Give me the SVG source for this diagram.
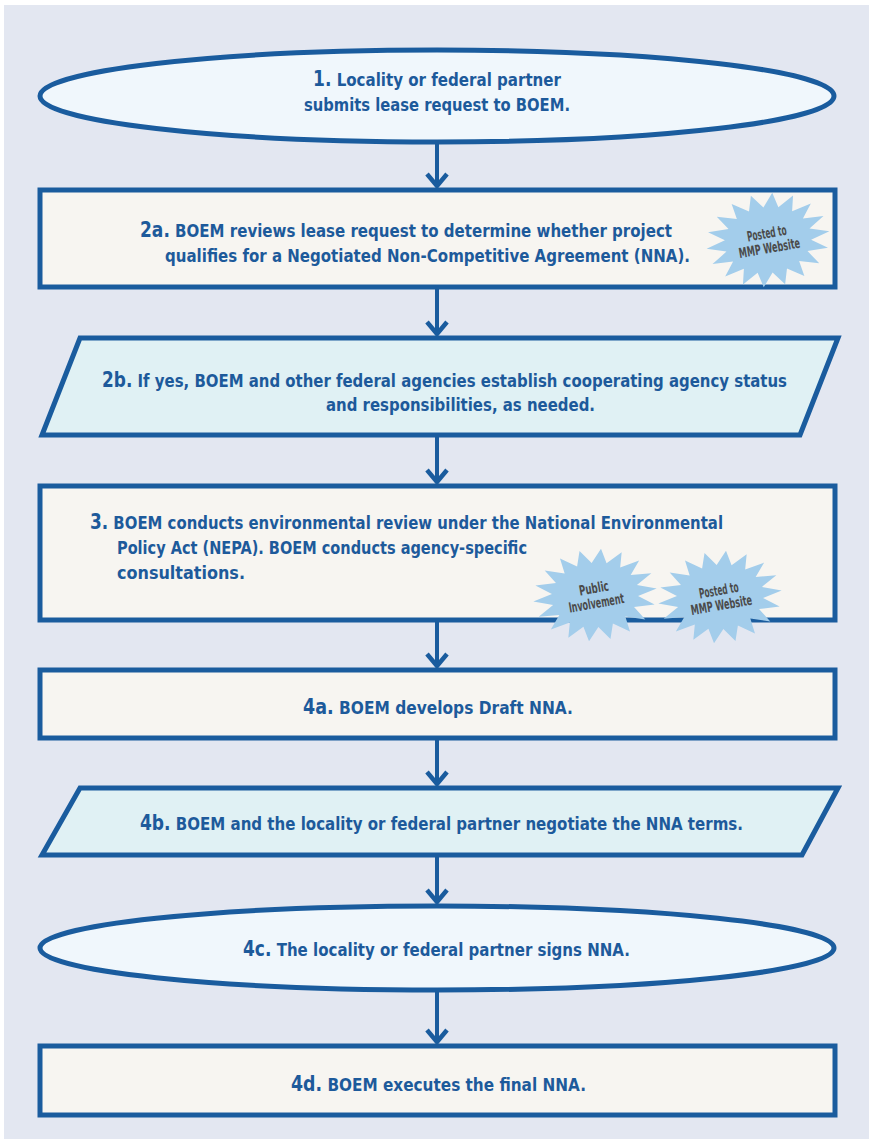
<svg xmlns="http://www.w3.org/2000/svg" width="869" height="1139" viewBox="0 0 869 1139">
<style>
.sh{stroke:#1a5c9e;stroke-width:5}
.ell{fill:#f0f7fc}
.box{fill:#f7f5f1}
.par{fill:#e0f1f4}
.t{font-family:"DejaVu Sans Condensed","Liberation Sans",sans-serif;font-weight:bold;font-size:18.5px;fill:#1d5a9b}
.n{font-size:21px}
.st{font-family:"DejaVu Sans Condensed","Liberation Sans",sans-serif;font-weight:bold;font-size:14px;fill:#4a4a4a;text-anchor:middle}
.star{fill:#a3cdeb}
.con{stroke:#1a5c9e;stroke-width:4;fill:none}
</style>
<defs>
<polygon id="star" points="1,0 .689,.122 .94,.342 .606,.35 .766,.643 .45,.536 .5,.866 .239,.658 .174,.985 0,.7 -.174,.985 -.239,.658 -.5,.866 -.45,.536 -.766,.643 -.606,.35 -.94,.342 -.689,.122 -1,0 -.689,-.122 -.94,-.342 -.606,-.35 -.766,-.643 -.45,-.536 -.5,-.866 -.239,-.658 -.174,-.985 0,-.7 .174,-.985 .239,-.658 .5,-.866 .45,-.536 .766,-.643 .606,-.35 .94,-.342 .689,-.122"/>
<marker id="arr" markerUnits="userSpaceOnUse" markerWidth="30" markerHeight="30" refX="19" refY="15" orient="auto" viewBox="0 0 30 30">
<path d="M7,5 L19,15 L7,25" fill="none" stroke="#1a5c9e" stroke-width="4.5"/>
</marker>
</defs>
<rect x="0" y="0" width="869" height="1139" fill="#ffffff"/>
<rect x="4" y="5" width="865" height="1134" fill="#e3e7f1"/>

<g id="connectors">
<path class="con" d="M437,142 V186" marker-end="url(#arr)"/>
<path class="con" d="M437,287 V334" marker-end="url(#arr)"/>
<path class="con" d="M437,435 V482" marker-end="url(#arr)"/>
<path class="con" d="M437,620 V666" marker-end="url(#arr)"/>
<path class="con" d="M437,738 V784" marker-end="url(#arr)"/>
<path class="con" d="M437,855 V902" marker-end="url(#arr)"/>
<path class="con" d="M437,990 V1042" marker-end="url(#arr)"/>
</g>

<g id="n1">
<ellipse class="sh ell" cx="437" cy="96" rx="397" ry="46"/>
<text class="t" x="313" y="86" textLength="248" lengthAdjust="spacingAndGlyphs"><tspan class="n">1.</tspan> Locality or federal partner</text>
<text class="t" x="304" y="111" textLength="266" lengthAdjust="spacingAndGlyphs">submits lease request to BOEM.</text>
</g>

<g id="n2a">
<rect class="sh box" x="40" y="190" width="795" height="97"/>
<text class="t" x="140" y="237" textLength="532" lengthAdjust="spacingAndGlyphs"><tspan class="n">2a.</tspan> BOEM reviews lease request to determine whether project</text>
<text class="t" x="165" y="262" textLength="525" lengthAdjust="spacingAndGlyphs">qualifies for a Negotiated Non-Competitive Agreement (NNA).</text>
<use href="#star" class="star" transform="translate(768,240) rotate(-8) scale(62,47)"/>
<text class="st" transform="translate(768,240) rotate(-10)"><tspan x="-20" y="-2" text-anchor="start" textLength="40" lengthAdjust="spacingAndGlyphs">Posted to</tspan><tspan x="-31" y="13" text-anchor="start" textLength="62" lengthAdjust="spacingAndGlyphs">MMP Website</tspan></text>
</g>

<g id="n2b">
<polygon class="sh par" points="80,338 838,338 800,435 42,435"/>
<text class="t" x="102" y="387" textLength="685" lengthAdjust="spacingAndGlyphs"><tspan class="n">2b.</tspan> If yes, BOEM and other federal agencies establish cooperating agency status</text>
<text class="t" x="326" y="411" textLength="269" lengthAdjust="spacingAndGlyphs">and responsibilities, as needed.</text>
</g>

<g id="n3">
<rect class="sh box" x="40" y="486" width="795" height="134"/>
<text class="t" x="90" y="529" textLength="633" lengthAdjust="spacingAndGlyphs"><tspan class="n">3.</tspan> BOEM conducts environmental review under the National Environmental</text>
<text class="t" x="117" y="554" textLength="410" lengthAdjust="spacingAndGlyphs">Policy Act (NEPA). BOEM conducts agency-specific</text>
<text class="t" x="117" y="579" textLength="128" lengthAdjust="spacingAndGlyphs">consultations.</text>
<use href="#star" class="star" transform="translate(595,595) rotate(-6) scale(62,46)"/>
<text class="st" transform="translate(595,595) rotate(-10)"><tspan x="-15" y="-2" text-anchor="start" textLength="30" lengthAdjust="spacingAndGlyphs">Public</tspan><tspan x="-28" y="13" text-anchor="start" textLength="56" lengthAdjust="spacingAndGlyphs">Involvement</tspan></text>
<use href="#star" class="star" transform="translate(720,597) rotate(-6) scale(62,46)"/>
<text class="st" transform="translate(720,597) rotate(-10)"><tspan x="-20" y="-2" text-anchor="start" textLength="40" lengthAdjust="spacingAndGlyphs">Posted to</tspan><tspan x="-31" y="13" text-anchor="start" textLength="62" lengthAdjust="spacingAndGlyphs">MMP Website</tspan></text>
</g>

<g id="n4a">
<rect class="sh box" x="40" y="670" width="795" height="68"/>
<text class="t" x="303" y="714" textLength="270" lengthAdjust="spacingAndGlyphs"><tspan class="n">4a.</tspan> BOEM develops Draft NNA.</text>
</g>

<g id="n4b">
<polygon class="sh par" points="80,788 838,788 802,855 42,855"/>
<text class="t" x="140" y="830" textLength="603" lengthAdjust="spacingAndGlyphs"><tspan class="n">4b.</tspan> BOEM and the locality or federal partner negotiate the NNA terms.</text>
</g>

<g id="n4c">
<ellipse class="sh ell" cx="437" cy="948" rx="397" ry="42"/>
<text class="t" x="243" y="956" textLength="387" lengthAdjust="spacingAndGlyphs"><tspan class="n">4c.</tspan> The locality or federal partner signs NNA.</text>
</g>

<g id="n4d">
<rect class="sh box" x="40" y="1046" width="795" height="69"/>
<text class="t" x="291" y="1091" textLength="295" lengthAdjust="spacingAndGlyphs"><tspan class="n">4d.</tspan> BOEM executes the final NNA.</text>
</g>
</svg>
